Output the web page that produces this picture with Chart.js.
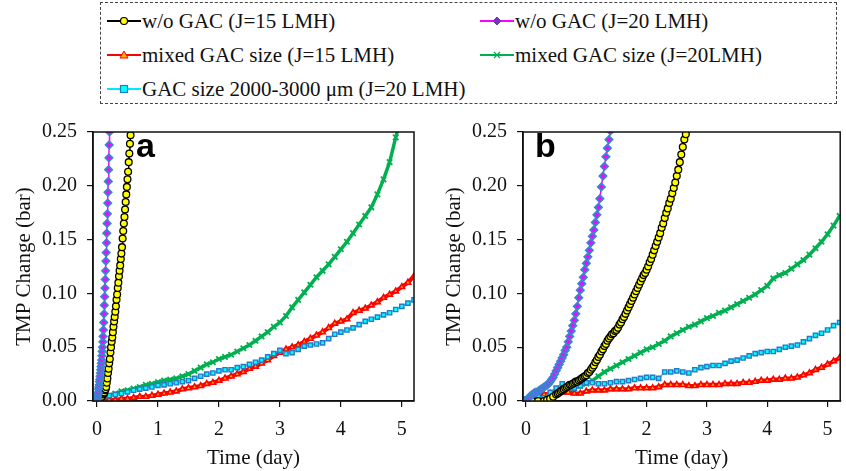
<!DOCTYPE html>
<html>
<head>
<meta charset="utf-8">
<script src="https://cdn.jsdelivr.net/npm/chart.js@4.4.1/dist/chart.umd.min.js"></script>
<style>
  body { margin: 0; background: #fff; width: 846px; height: 471px; position: relative; overflow: hidden; font-family: 'Liberation Serif', serif; }
  #legend { position: absolute; left: 100px; top: 2px; width: 735px; height: 100px; border: 1px dashed #444; }
  .item { position: absolute; height: 24px; line-height: 24px; font-size: 21px; color: #111; white-space: nowrap; }
  .item svg { position: absolute; left: 0; top: 5px; }
  .item span { position: absolute; left: 35px; top: 0; }
  .panel { position: absolute; top: 110px; height: 361px; }
  .tag { position: absolute; font-family: 'Liberation Sans', sans-serif; font-weight: bold; font-size: 34px; line-height: 34px; color: #000; }
</style>
</head>
<body>
<div id="legend"></div>
<div class="panel" style="left:0;width:430px"><canvas id="chartA" width="430" height="361"></canvas></div>
<div class="panel" style="left:430px;width:416px"><canvas id="chartB" width="416" height="361"></canvas></div>
<div class="tag" style="left:136px;top:128px">a</div>
<div class="tag" style="left:535px;top:128px">b</div>
<script>
// ---------- data (time in days, TMP change in bar) ----------
const series_names = [
  'w/o GAC (J=15 LMH)',
  'w/o GAC (J=20 LMH)',
  'mixed GAC size (J=15 LMH)',
  'mixed GAC size (J=20LMH)',
  'GAC size 2000-3000 μm (J=20 LMH)'
];
const x_ticks = [0, 1, 2, 3, 4, 5];
const y_ticks = [0, 0.05, 0.10, 0.15, 0.20, 0.25];

// common time grid for the long runs (every 0.1 day)
const t_long = [0,0.1,0.2,0.3,0.4,0.5,0.6,0.7,0.8,0.9,1.0,1.1,1.2,1.3,1.4,1.5,1.6,1.7,1.8,1.9,
  2.0,2.1,2.2,2.3,2.4,2.5,2.6,2.7,2.8,2.9,3.0,3.1,3.2,3.3,3.4,3.5,3.6,3.7,3.8,3.9,
  4.0,4.1,4.2,4.3,4.4,4.5,4.6,4.7,4.8,4.9,5.0,5.1,5.2];

// panel a
const a_noGac15_t = [0,0.03,0.06,0.08,0.10,0.11,0.12,0.13,0.14,0.15,0.16,0.17,0.18,0.19,0.20,0.21,0.22,0.23,0.24,0.25,
  0.26,0.27,0.28,0.29,0.30,0.31,0.32,0.33,0.34,0.35,0.36,0.37,0.38,0.39,0.40,0.41,0.42,0.43,0.44,0.45,
  0.46,0.47,0.48,0.49,0.50,0.51,0.52,0.53,0.54,0.55];
const a_noGac15 = [0,0.001,0.003,0.004,0.006,0.007,0.008,0.010,0.011,0.013,0.017,0.021,0.026,0.030,0.035,0.039,0.045,0.050,0.055,0.059,
  0.064,0.069,0.074,0.078,0.083,0.088,0.094,0.099,0.105,0.110,0.116,0.121,0.126,0.132,0.137,0.143,0.151,0.158,0.165,0.171,
  0.178,0.185,0.192,0.199,0.206,0.213,0.222,0.230,0.239,0.247];
const a_noGac20_t = [0,0.005,0.010,0.015,0.020,0.025,0.030,0.035,0.040,0.045,0.050,0.055,0.060,0.065,0.070,0.075,0.080,0.085,0.090,0.095,
  0.100,0.105,0.110,0.115,0.120,0.125,0.130,0.135,0.140,0.145,0.150,0.155,0.160,0.165,0.170,0.175,0.180,0.185,0.190,0.195,0.200,0.205];
const a_noGac20 = [0,0.002,0.004,0.006,0.008,0.011,0.013,0.015,0.018,0.020,0.023,0.026,0.029,0.032,0.035,0.038,0.042,0.046,0.050,0.055,
  0.060,0.066,0.073,0.081,0.089,0.097,0.105,0.113,0.121,0.130,0.138,0.147,0.156,0.165,0.174,0.184,0.194,0.204,0.215,0.226,0.238,0.250];
const a_mixed15 = [0,0.000,0.001,0.001,0.002,0.002,0.003,0.004,0.004,0.005,0.006,0.007,0.008,0.009,0.011,0.012,0.013,0.014,0.016,0.017,
  0.019,0.021,0.023,0.025,0.027,0.030,0.032,0.035,0.038,0.042,0.045,0.048,0.050,0.052,0.055,0.058,0.061,0.064,0.068,0.072,
  0.074,0.076,0.082,0.084,0.086,0.089,0.092,0.096,0.099,0.102,0.106,0.110,0.116];
const a_mixed20 = [0,0.003,0.005,0.007,0.009,0.010,0.0115,0.013,0.015,0.016,0.0175,0.019,0.020,0.021,0.023,0.025,0.028,0.031,0.034,0.036,
  0.039,0.041,0.043,0.046,0.049,0.052,0.056,0.060,0.064,0.069,0.073,0.079,0.087,0.094,0.101,0.108,0.115,0.121,0.127,0.134,
  0.141,0.148,0.156,0.164,0.172,0.180,0.192,0.206,0.222,0.245,0.265];
const a_gacBig = [0,0.004,0.005,0.006,0.007,0.0085,0.010,0.011,0.012,0.013,0.0145,0.015,0.016,0.017,0.018,0.019,0.021,0.023,0.025,0.026,
  0.028,0.029,0.029,0.031,0.032,0.034,0.036,0.038,0.041,0.044,0.047,0.044,0.045,0.048,0.051,0.052,0.053,0.054,0.058,0.062,
  0.064,0.066,0.068,0.071,0.074,0.076,0.078,0.080,0.082,0.085,0.088,0.091,0.094];

// panel b
const b_noGac15_t = [0,0.1,0.2,0.3,0.35,0.4,0.45,0.5,0.525,0.55,0.575,0.6,0.625,0.65,0.675,0.7,0.725,0.75,0.775,0.8,
  0.825,0.85,0.875,0.9,0.925,0.95,0.975,1.0,1.025,1.05,1.075,1.1,1.125,1.15,1.175,1.2,1.225,1.25,1.275,1.3,
  1.325,1.35,1.375,1.4,1.425,1.45,1.475,1.5,1.525,1.55,1.575,1.6,1.625,1.65,1.675,1.7,1.725,1.75,1.775,1.8,
  1.825,1.85,1.875,1.9,1.925,1.95,1.975,2.0,2.025,2.05,2.075,2.1,2.125,2.15,2.175,2.2,2.225,2.25,2.275,2.3,
  2.325,2.35,2.375,2.4,2.425,2.45,2.475,2.5,2.525,2.55,2.575,2.6,2.625,2.65];
const b_noGac15 = [0,0,0,0,0.001,0.002,0.004,0.006,0.007,0.008,0.009,0.010,0.011,0.012,0.013,0.014,0.015,0.015,0.016,0.017,
  0.018,0.018,0.019,0.020,0.021,0.022,0.023,0.024,0.026,0.027,0.029,0.031,0.033,0.036,0.038,0.041,0.043,0.046,0.048,0.051,
  0.053,0.056,0.058,0.060,0.062,0.063,0.065,0.066,0.068,0.071,0.073,0.076,0.078,0.081,0.084,0.087,0.090,0.093,0.096,0.099,
  0.102,0.105,0.108,0.111,0.114,0.117,0.119,0.122,0.125,0.129,0.132,0.136,0.140,0.144,0.148,0.152,0.156,0.161,0.165,0.170,
  0.175,0.179,0.184,0.188,0.193,0.198,0.203,0.209,0.215,0.222,0.229,0.236,0.243,0.248];
const b_noGac20_t = [0,0.025,0.05,0.075,0.1,0.125,0.15,0.175,0.2,0.225,0.25,0.275,0.3,0.325,0.35,0.375,0.4,0.425,0.45,0.475,
  0.5,0.525,0.55,0.575,0.6,0.625,0.65,0.675,0.7,0.725,0.75,0.775,0.8,0.825,0.85,0.875,0.9,0.925,0.95,0.975,
  1.0,1.025,1.05,1.075,1.1,1.125,1.15,1.175,1.2,1.225,1.25,1.275,1.3,1.325,1.35,1.375,1.4];
const b_noGac20 = [0,0.002,0.003,0.005,0.006,0.007,0.008,0.008,0.009,0.010,0.011,0.012,0.013,0.014,0.015,0.016,0.018,0.020,0.022,0.025,
  0.028,0.031,0.034,0.037,0.040,0.043,0.047,0.050,0.055,0.060,0.065,0.070,0.075,0.081,0.088,0.096,0.103,0.109,0.115,0.122,
  0.128,0.134,0.140,0.147,0.153,0.159,0.166,0.173,0.180,0.188,0.199,0.209,0.218,0.227,0.235,0.243,0.251];
const b_mixed15 = [0,0.003,0.005,0.006,0.007,0.008,0.008,0.008,0.007,0.007,0.009,0.010,0.010,0.010,0.011,0.011,0.011,0.011,0.012,0.012,
  0.012,0.012,0.013,0.015,0.015,0.015,0.015,0.014,0.014,0.015,0.015,0.015,0.015,0.016,0.016,0.016,0.017,0.017,0.018,0.019,
  0.019,0.020,0.020,0.021,0.021,0.022,0.024,0.026,0.029,0.031,0.034,0.037,0.040];
const b_mixed20 = [0,0.000,0.001,0.002,0.005,0.007,0.009,0.011,0.012,0.014,0.016,0.019,0.023,0.027,0.030,0.033,0.036,0.039,0.042,0.045,
  0.048,0.050,0.053,0.056,0.060,0.063,0.066,0.069,0.071,0.074,0.077,0.079,0.082,0.084,0.087,0.090,0.093,0.096,0.099,0.103,
  0.107,0.114,0.117,0.119,0.123,0.127,0.131,0.136,0.142,0.148,0.155,0.163,0.172];
const b_gacBig = [0.002,0.005,0.004,0.003,0.008,0.012,0.016,0.014,0.012,0.014,0.017,0.017,0.016,0.016,0.017,0.018,0.018,0.019,0.020,0.021,
  0.022,0.022,0.021,0.027,0.027,0.028,0.027,0.026,0.029,0.031,0.032,0.033,0.033,0.035,0.037,0.038,0.040,0.042,0.044,0.045,
  0.046,0.046,0.048,0.050,0.051,0.052,0.055,0.058,0.061,0.063,0.066,0.070,0.073];

// ---------- styles per series ----------
const styles = [
  { line: '#000000', width: 1.5, pointStyle: 'circle',   radius: 3.4, fill: '#ffff00', edge: '#000000', edgeW: 1.3 },
  { line: '#ff00ff', width: 1.5, pointStyle: 'rectRot',  radius: 3.6, fill: '#ff00ff', edge: '#3a84d4', edgeW: 1.8 },
  { line: '#ff0000', width: 4,   pointStyle: 'triangle', radius: 3.2, fill: '#ffb000', edge: '#ff0000', edgeW: 1.6 },
  { line: '#00b050', width: 3.5, pointStyle: 'crossRot', radius: 3.8, fill: '#00b050', edge: '#00b050', edgeW: 1.8 },
  { line: '#00e8ff', width: 1.5, pointStyle: 'rect',     radius: 3,   fill: '#00ffff', edge: '#2878c8', edgeW: 1.4 }
];

function pairs(ts, vs) {
  return vs.map((v, i) => ({ x: ts[i], y: v }));
}

function ds(idx, pts) {
  const s = styles[idx];
  return {
    label: series_names[idx],
    data: pts,
    borderColor: s.line,
    borderWidth: s.width,
    pointStyle: s.pointStyle,
    pointRadius: s.radius,
    pointBackgroundColor: s.fill,
    pointBorderColor: s.edge,
    pointBorderWidth: s.edgeW,
    tension: 0
  };
}

// plot frame (top and right sides of the box)
const frame = {
  id: 'frame',
  afterDraw(chart) {
    const { ctx, chartArea: a } = chart;
    ctx.save();
    ctx.strokeStyle = '#111';
    ctx.lineWidth = 1.5;
    ctx.strokeRect(a.left, a.top, a.right - a.left, a.bottom - a.top);
    ctx.restore();
  }
};

function makeConfig(datasets, xMin, xMax, padRight) {
  return {
    type: 'line',
    data: { datasets: datasets },
    options: {
      responsive: false,
      animation: false,
      layout: { padding: { left: 0, right: padRight, top: 16, bottom: 0 } },
      plugins: { legend: { display: false }, tooltip: { enabled: false } },
      scales: {
        x: {
          type: 'linear', min: xMin, max: xMax,
          afterBuildTicks: s => { s.ticks = x_ticks.map(v => ({ value: v })); },
          afterFit: s => { s.height = 70; },
          grid: { drawOnChartArea: false, drawTicks: true, tickLength: 6, color: '#111', lineWidth: 1.2 },
          border: { color: '#111', width: 1.5 },
          ticks: { color: '#111', padding: 11, maxRotation: 0, font: { family: 'Liberation Serif', size: 20 } },
          title: { display: true, text: 'Time (day)', color: '#111', padding: { top: 0, bottom: 0 },
                   font: { family: 'Liberation Serif', size: 21 } }
        },
        y: {
          min: 0, max: 0.25,
          afterBuildTicks: s => { s.ticks = y_ticks.map(v => ({ value: v })); },
          afterFit: s => { s.width = 93; },
          grid: { drawOnChartArea: false, drawTicks: true, tickLength: 6, color: '#111', lineWidth: 1.2 },
          border: { color: '#111', width: 1.5 },
          ticks: { color: '#111', padding: 10, callback: v => v.toFixed(2), font: { family: 'Liberation Serif', size: 20 } },
          title: { display: true, text: 'TMP Change (bar)', color: '#111', padding: { top: 12, bottom: 0 },
                   font: { family: 'Liberation Serif', size: 21 } }
        }
      }
    },
    plugins: [frame]
  };
}

// first dataset is drawn on top
const chartA = new Chart(document.getElementById('chartA'), makeConfig([
  ds(1, pairs(a_noGac20_t, a_noGac20)),
  ds(0, pairs(a_noGac15_t, a_noGac15)),
  ds(4, pairs(t_long, a_gacBig)),
  ds(2, pairs(t_long, a_mixed15)),
  ds(3, pairs(t_long, a_mixed20))
], -0.066, 5.2, 16));

const chartB = new Chart(document.getElementById('chartB'), makeConfig([
  ds(1, pairs(b_noGac20_t, b_noGac20)),
  ds(0, pairs(b_noGac15_t, b_noGac15)),
  ds(4, pairs(t_long, b_gacBig)),
  ds(2, pairs(t_long, b_mixed15)),
  ds(3, pairs(t_long, b_mixed20))
], -0.05, 5.21, 1));

// ---------- shared legend ----------
const legend_pos = [
  { left: 6, top: 6 }, { left: 379, top: 6 },
  { left: 6, top: 40 }, { left: 379, top: 40 },
  { left: 6, top: 74 }
];

function markerSvg(s) {
  const c = 17, m = 7;
  let mk = '';
  if (s.pointStyle === 'circle') mk = `<circle cx="${c}" cy="${m}" r="3.5" fill="${s.fill}" stroke="${s.edge}" stroke-width="1.2"/>`;
  if (s.pointStyle === 'rectRot') mk = `<polygon points="${c},${m-4} ${c+4},${m} ${c},${m+4} ${c-4},${m}" fill="#8030c0" stroke="#6040c0" stroke-width="1"/>`;
  if (s.pointStyle === 'triangle') mk = `<polygon points="${c},${m-4} ${c+4},${m+3} ${c-4},${m+3}" fill="${s.fill}" stroke="${s.edge}" stroke-width="1"/>`;
  if (s.pointStyle === 'crossRot') mk = `<path d="M${c-3} ${m-3}L${c+3} ${m+3}M${c+3} ${m-3}L${c-3} ${m+3}" stroke="${s.edge}" stroke-width="1.2"/>`;
  if (s.pointStyle === 'rect') mk = `<rect x="${c-3.5}" y="${m-3.5}" width="7" height="7" fill="${s.fill}" stroke="${s.edge}" stroke-width="1.2"/>`;
  return `<svg width="34" height="14"><line x1="0" y1="${m}" x2="34" y2="${m}" stroke="${s.line}" stroke-width="2"/>${mk}</svg>`;
}

const legendBox = document.getElementById('legend');
series_names.forEach((name, i) => {
  const d = document.createElement('div');
  d.className = 'item';
  d.style.left = legend_pos[i].left + 'px';
  d.style.top = legend_pos[i].top + 'px';
  d.innerHTML = markerSvg(styles[i]) + '<span></span>';
  d.querySelector('span').textContent = name;
  legendBox.appendChild(d);
});
</script>
</body>
</html>
